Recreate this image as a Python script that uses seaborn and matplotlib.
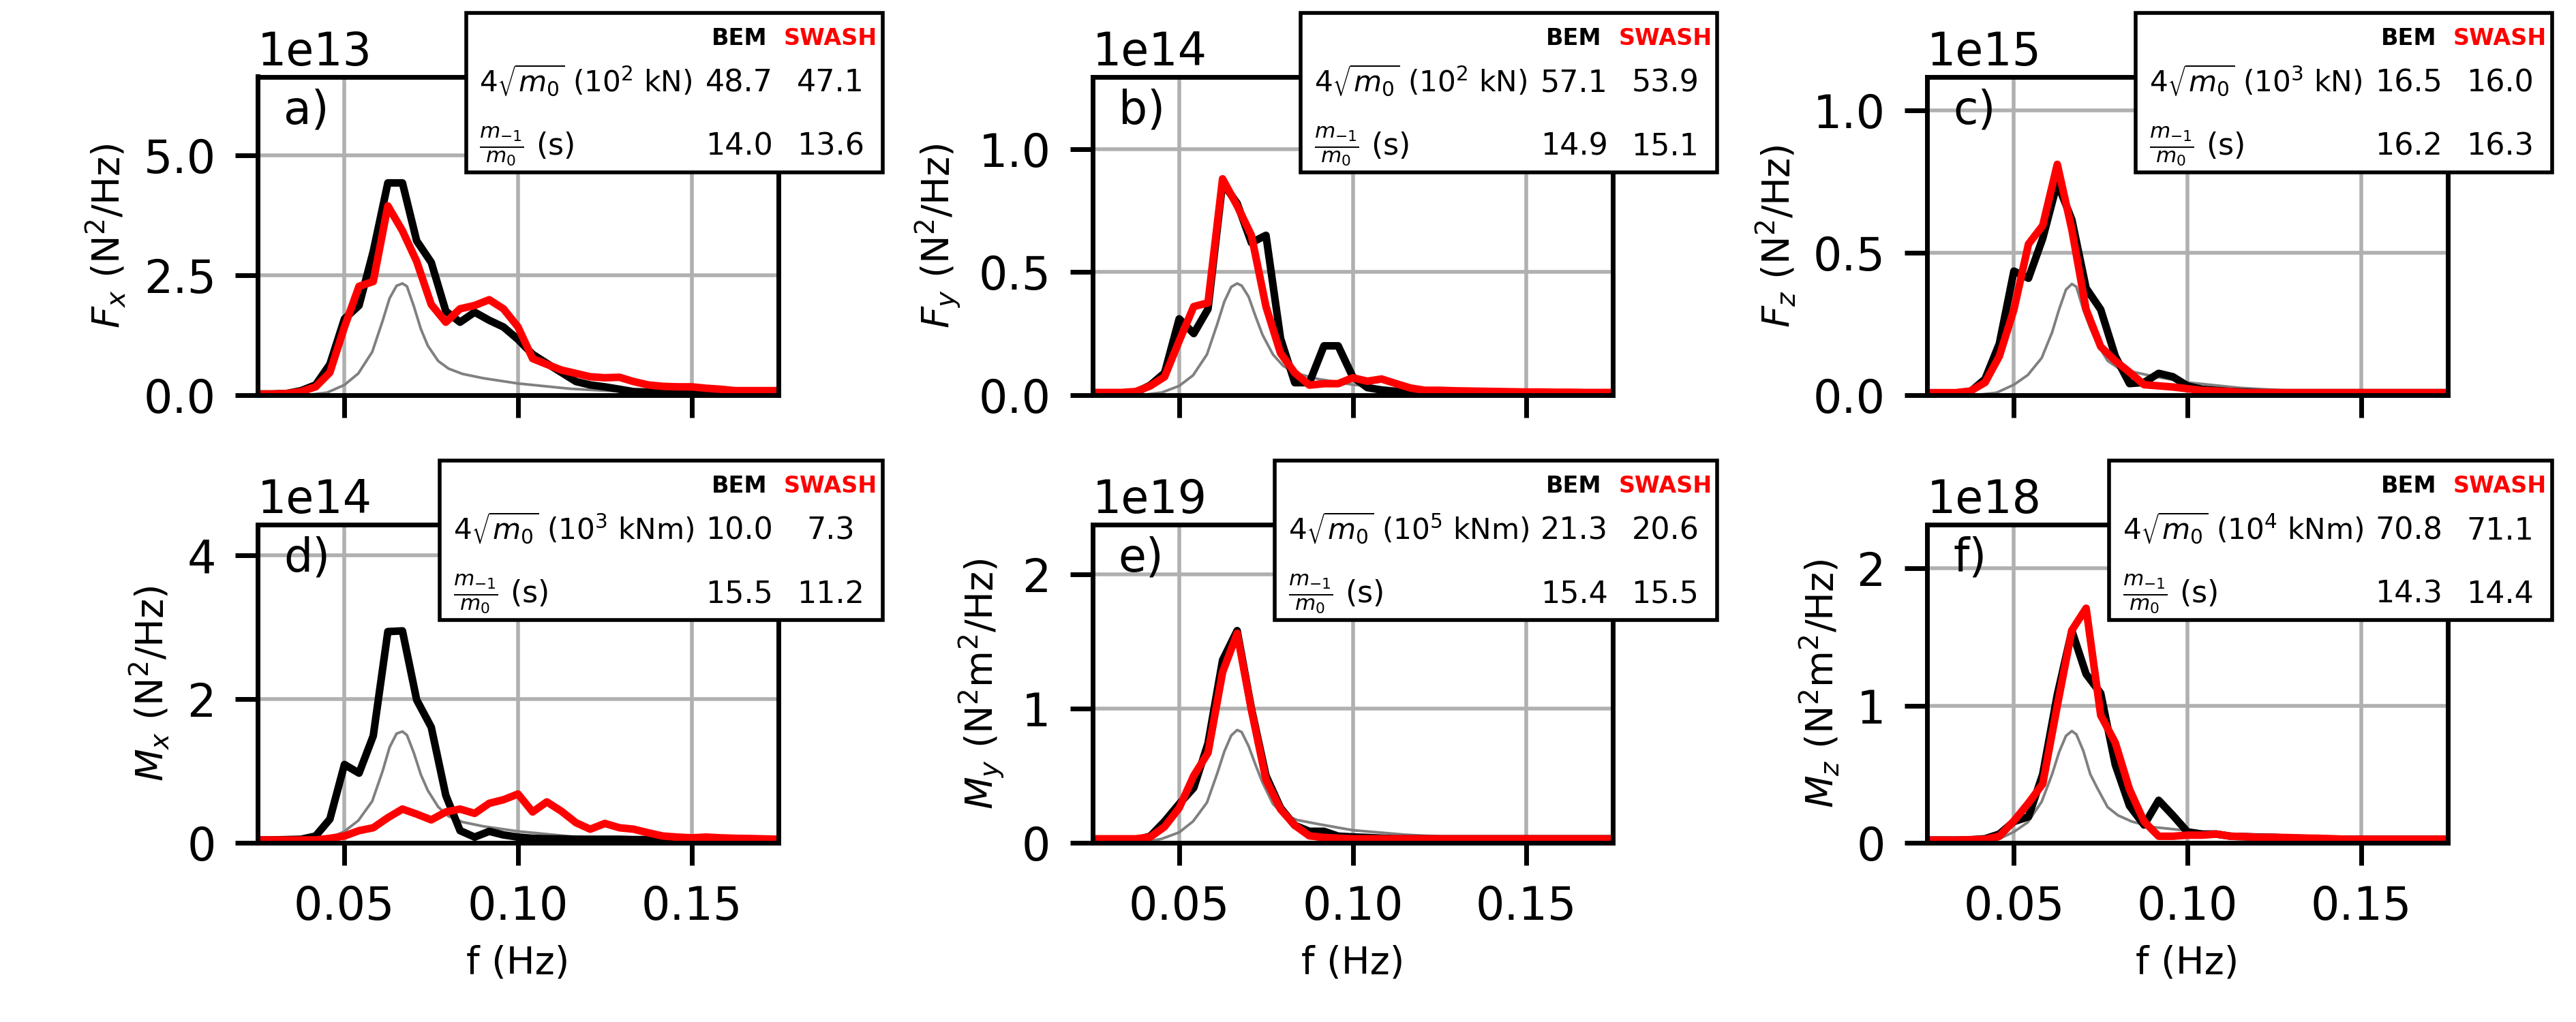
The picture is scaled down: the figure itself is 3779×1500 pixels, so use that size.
import matplotlib.pyplot as plt
from matplotlib.patches import Rectangle
import seaborn as sns

# spectra of the six load components: BEM (black), SWASH (red), incident-wave shape (gray)
# values in units of the axis multiplier (1e13, 1e14, ...)

freq = [0.0250, 0.0292, 0.0333, 0.0375, 0.0417, 0.0458, 0.0500, 0.0542, 0.0583, 0.0625,
        0.0667, 0.0708, 0.0750, 0.0792, 0.0833, 0.0875, 0.0917, 0.0958, 0.1000, 0.1042,
        0.1083, 0.1125, 0.1167, 0.1208, 0.1250, 0.1292, 0.1333, 0.1375, 0.1417, 0.1458,
        0.1500, 0.1542, 0.1583, 0.1625, 0.1667, 0.1708, 0.1750]

freq_gray = [0.025, 0.040, 0.045, 0.050, 0.054, 0.058, 0.061, 0.063, 0.065, 0.0667,
             0.068, 0.070, 0.072, 0.074, 0.077, 0.080, 0.084, 0.090, 0.100, 0.115,
             0.125, 0.135, 0.150, 0.175]

fx_bem = [0.02, 0.02, 0.03, 0.09, 0.21, 0.64, 1.59, 1.87, 3.00, 4.43, 4.43, 3.22, 2.77,
          1.75, 1.52, 1.73, 1.56, 1.42, 1.16, 0.85, 0.66, 0.47, 0.28, 0.21, 0.17, 0.12,
          0.07, 0.06, 0.05, 0.05, 0.05, 0.05, 0.05, 0.05, 0.05, 0.06, 0.07]
fx_swash = [0.02, 0.02, 0.03, 0.07, 0.17, 0.47, 1.42, 2.27, 2.37, 3.95, 3.43, 2.79, 1.89,
            1.52, 1.80, 1.87, 1.99, 1.80, 1.42, 0.76, 0.64, 0.52, 0.45, 0.38, 0.36, 0.37,
            0.28, 0.21, 0.18, 0.17, 0.17, 0.14, 0.12, 0.09, 0.09, 0.09, 0.09]
fx_wave = [0.0, 0.005, 0.05, 0.21, 0.45, 0.90, 1.55, 2.02, 2.28, 2.33, 2.27, 1.85, 1.38,
           1.03, 0.71, 0.55, 0.44, 0.35, 0.24, 0.13, 0.09, 0.06, 0.04, 0.02]

fy_bem = [0.005, 0.005, 0.005, 0.01, 0.04, 0.09, 0.31, 0.25, 0.35, 0.864, 0.78, 0.62, 0.65,
          0.23, 0.05, 0.05, 0.20, 0.20, 0.074, 0.03, 0.02, 0.014, 0.005, 0.004, 0.004, 0.004,
          0.004, 0.004, 0.004, 0.004, 0.004, 0.004, 0.004, 0.004, 0.004, 0.004, 0.004]
fy_swash = [0.01, 0.01, 0.01, 0.014, 0.037, 0.074, 0.22, 0.36, 0.375, 0.88, 0.77, 0.65, 0.36,
            0.17, 0.09, 0.04, 0.046, 0.046, 0.07, 0.056, 0.065, 0.046, 0.028, 0.019, 0.019,
            0.017, 0.016, 0.015, 0.014, 0.013, 0.012, 0.012, 0.011, 0.011, 0.01, 0.01, 0.01]
fy_wave = [0.0, 0.001, 0.01, 0.037, 0.08, 0.165, 0.29, 0.38, 0.44, 0.454, 0.445, 0.40, 0.32,
           0.245, 0.165, 0.118, 0.087, 0.065, 0.042, 0.022, 0.015, 0.01, 0.006, 0.003]

fz_bem = [0.005, 0.005, 0.005, 0.012, 0.056, 0.18, 0.435, 0.41, 0.55, 0.745, 0.615, 0.375,
          0.30, 0.136, 0.04, 0.044, 0.076, 0.064, 0.032, 0.02, 0.016, 0.012, 0.01, 0.008,
          0.008, 0.008, 0.008, 0.008, 0.008, 0.008, 0.008, 0.008, 0.008, 0.008, 0.008, 0.008,
          0.008]
fz_swash = [0.008, 0.008, 0.008, 0.014, 0.044, 0.136, 0.30, 0.53, 0.595, 0.81, 0.58, 0.30,
            0.17, 0.12, 0.08, 0.036, 0.032, 0.028, 0.022, 0.016, 0.014, 0.012, 0.008, 0.008,
            0.008, 0.008, 0.008, 0.008, 0.008, 0.008, 0.008, 0.008, 0.008, 0.008, 0.008, 0.008,
            0.008]
fz_wave = [0.0, 0.001, 0.008, 0.036, 0.07, 0.13, 0.22, 0.30, 0.37, 0.39, 0.38, 0.30, 0.235,
           0.18, 0.12, 0.095, 0.082, 0.066, 0.044, 0.025, 0.018, 0.012, 0.008, 0.004]

mx_bem = [0.04, 0.04, 0.045, 0.05, 0.095, 0.33, 1.09, 0.97, 1.49, 2.94, 2.95, 1.99, 1.61,
          0.66, 0.17, 0.08, 0.16, 0.11, 0.08, 0.063, 0.057, 0.055, 0.05, 0.05, 0.05, 0.05,
          0.045, 0.045, 0.04, 0.04, 0.04, 0.04, 0.04, 0.04, 0.04, 0.04, 0.04]
mx_swash = [0.04, 0.04, 0.04, 0.04, 0.04, 0.063, 0.095, 0.17, 0.21, 0.35, 0.47, 0.40, 0.32,
            0.43, 0.47, 0.41, 0.55, 0.60, 0.68, 0.43, 0.57, 0.44, 0.28, 0.19, 0.27, 0.21,
            0.19, 0.14, 0.095, 0.08, 0.07, 0.08, 0.07, 0.063, 0.06, 0.055, 0.05]
mx_wave = [0.0, 0.01, 0.05, 0.16, 0.31, 0.58, 1.00, 1.33, 1.52, 1.55, 1.50, 1.25, 0.95,
           0.73, 0.50, 0.37, 0.29, 0.23, 0.16, 0.09, 0.06, 0.04, 0.025, 0.015]

my_bem = [0.02, 0.02, 0.02, 0.02, 0.05, 0.16, 0.29, 0.41, 0.74, 1.36, 1.58, 1.00, 0.50,
          0.26, 0.13, 0.086, 0.086, 0.05, 0.044, 0.04, 0.035, 0.03, 0.03, 0.03, 0.03, 0.03,
          0.03, 0.03, 0.03, 0.03, 0.03, 0.03, 0.03, 0.03, 0.03, 0.03, 0.03]
my_swash = [0.03, 0.03, 0.03, 0.03, 0.044, 0.12, 0.26, 0.50, 0.67, 1.27, 1.56, 0.99, 0.47,
            0.25, 0.13, 0.052, 0.04, 0.035, 0.03, 0.03, 0.03, 0.03, 0.03, 0.03, 0.03, 0.03,
            0.03, 0.03, 0.03, 0.03, 0.03, 0.03, 0.03, 0.03, 0.03, 0.03, 0.03]
my_wave = [0.0, 0.005, 0.03, 0.078, 0.16, 0.30, 0.52, 0.68, 0.80, 0.84, 0.825, 0.72, 0.58,
           0.45, 0.29, 0.21, 0.17, 0.14, 0.094, 0.061, 0.047, 0.037, 0.03, 0.022]

mz_bem = [0.02, 0.02, 0.02, 0.022, 0.03, 0.064, 0.155, 0.19, 0.50, 1.08, 1.545, 1.23, 1.09,
          0.57, 0.27, 0.13, 0.31, 0.20, 0.08, 0.064, 0.064, 0.048, 0.045, 0.042, 0.04, 0.035,
          0.033, 0.03, 0.026, 0.026, 0.026, 0.026, 0.026, 0.026, 0.026, 0.026, 0.026]
mz_swash = [0.02, 0.02, 0.02, 0.023, 0.026, 0.048, 0.16, 0.29, 0.43, 1.00, 1.55, 1.71, 0.93,
            0.73, 0.39, 0.155, 0.048, 0.048, 0.056, 0.056, 0.064, 0.048, 0.045, 0.04, 0.04,
            0.038, 0.035, 0.033, 0.03, 0.026, 0.026, 0.026, 0.026, 0.026, 0.026, 0.026, 0.026]
mz_wave = [0.0, 0.004, 0.02, 0.08, 0.15, 0.30, 0.50, 0.66, 0.78, 0.815, 0.79, 0.67, 0.50,
           0.40, 0.26, 0.20, 0.155, 0.115, 0.089, 0.058, 0.044, 0.033, 0.026, 0.02]

bem_list = [fx_bem, fy_bem, fz_bem, mx_bem, my_bem, mz_bem]
swash_list = [fx_swash, fy_swash, fz_swash, mx_swash, my_swash, mz_swash]
wave_list = [fx_wave, fy_wave, fz_wave, mx_wave, my_wave, mz_wave]

scales = [1e13, 1e14, 1e15, 1e14, 1e19, 1e18]
ylim_top = [6.65, 1.296, 1.118, 4.43, 2.37, 2.32]
yticks = [[0, 2.5, 5.0], [0, 0.5, 1.0], [0, 0.5, 1.0], [0, 2, 4], [0, 1, 2], [0, 1, 2]]
panel_tags = ["a)", "b)", "c)", "d)", "e)", "f)"]
ylabels = [r"$F_x$ (N$^2$/Hz)", r"$F_y$ (N$^2$/Hz)", r"$F_z$ (N$^2$/Hz)",
           r"$M_x$ (N$^2$/Hz)", r"$M_y$ (N$^2$m$^2$/Hz)", r"$M_z$ (N$^2$m$^2$/Hz)"]

# table contents
units = [r"($10^2$ kN)", r"($10^2$ kN)", r"($10^3$ kN)",
         r"($10^3$ kNm)", r"($10^5$ kNm)", r"($10^4$ kNm)"]
hs_bem = ["48.7", "57.1", "16.5", "10.0", "21.3", "70.8"]
hs_swash = ["47.1", "53.9", "16.0", "7.3", "20.6", "71.1"]
tm_bem = ["14.0", "14.9", "16.2", "15.5", "15.4", "14.3"]
tm_swash = ["13.6", "15.1", "16.3", "11.2", "15.5", "14.4"]
box_left = [0.4, 0.4, 0.4, 0.35, 0.35, 0.35]

sns.set_theme(context="notebook", style="ticks",
              rc={"axes.edgecolor": "black", "text.color": "black",
                  "axes.labelcolor": "black", "xtick.color": "black",
                  "ytick.color": "black", "xtick.labelsize": 12, "ytick.labelsize": 12,
                  "axes.labelsize": 10, "xtick.major.pad": 5, "ytick.major.pad": 5})
plt.rcParams['font.family'] = ['DejaVu Sans']

fig, axes = plt.subplots(2, 3, figsize=(9.45, 3.75), sharex=True)
fig.subplots_adjust(left=0.1, right=0.95, top=0.925, bottom=0.1753, wspace=0.603, hspace=0.407)

for i, ax in enumerate(axes.flat):
    s = scales[i]
    ax.grid(True, color="#b0b0b0", lw=1.0)
    sns.lineplot(x=freq_gray, y=[v * s for v in wave_list[i]], color="gray", lw=0.7, ax=ax)
    sns.lineplot(x=freq, y=[v * s for v in bem_list[i]], color="black", lw=2, ax=ax)
    sns.lineplot(x=freq, y=[v * s for v in swash_list[i]], color="red", lw=2, ax=ax)

    ax.set_xlim(0.025, 0.175)
    ax.set_xticks([0.05, 0.10, 0.15])
    ax.set_ylim(0, ylim_top[i] * s)
    ax.set_yticks([t * s for t in yticks[i]])
    ax.set_ylabel(ylabels[i])
    ax.set_xlabel("f (Hz)" if i >= 3 else "")
    ax.text(0.05, 0.853, panel_tags[i], transform=ax.transAxes, fontsize=12, va="baseline")

    # small statistics table
    x0 = box_left[i]
    ax.add_patch(Rectangle((x0, 0.7), 1.2 - x0, 0.5, transform=ax.transAxes,
                           facecolor="white", edgecolor="black", lw=1.0,
                           clip_on=False, zorder=5))
    kw = dict(transform=ax.transAxes, va="baseline", zorder=6, clip_on=False)
    ax.text(0.925, 1.10, "BEM", ha="center", fontsize=6, fontweight="bold", **kw)
    ax.text(1.10, 1.10, "SWASH", ha="center", fontsize=6, fontweight="bold", color="red", **kw)
    ax.text(x0 + 0.026, 0.953, r"$4\sqrt{m_0}$ " + units[i], ha="left", fontsize=7.6, **kw)
    ax.text(0.925, 0.953, hs_bem[i], ha="center", fontsize=8, **kw)
    ax.text(1.10, 0.953, hs_swash[i], ha="center", fontsize=8, **kw)
    ax.text(x0 + 0.026, 0.754, r"$\frac{m_{-1}}{m_0}$ (s)", ha="left", fontsize=8, **kw)
    ax.text(0.925, 0.754, tm_bem[i], ha="center", fontsize=8, **kw)
    ax.text(1.10, 0.754, tm_swash[i], ha="center", fontsize=8, **kw)

plt.savefig("out.png", dpi=400)
plt.close()
